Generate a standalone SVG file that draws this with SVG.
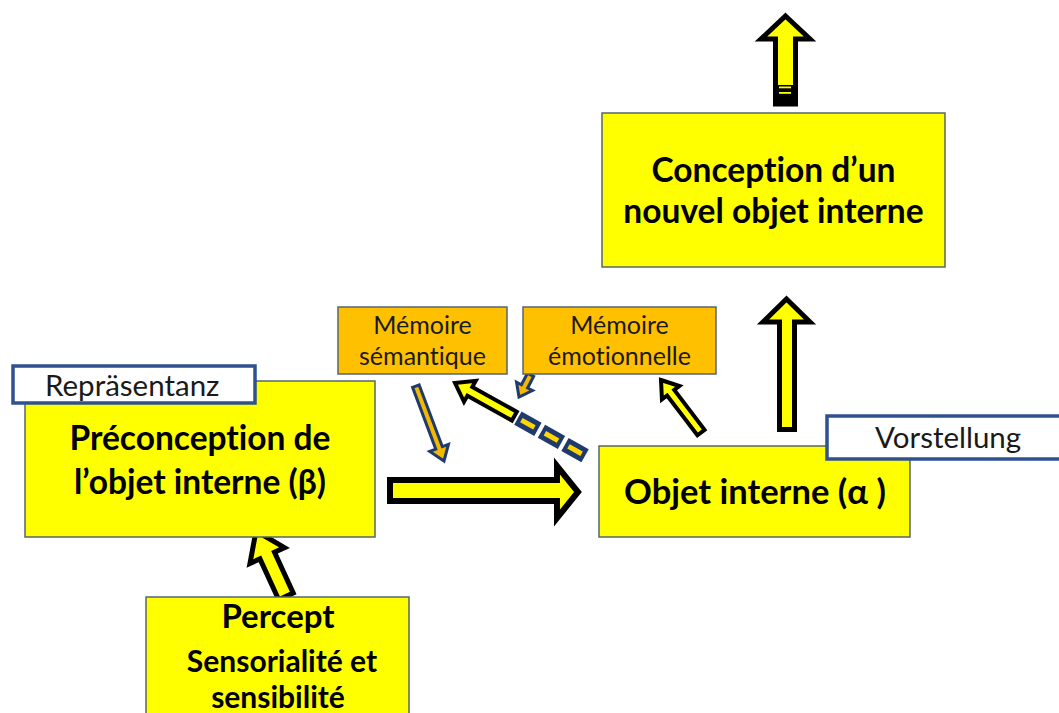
<svg xmlns="http://www.w3.org/2000/svg" width="1059" height="713" viewBox="0 0 1059 713">
<style>
.box{fill:#FFFF00;stroke:#55666A;stroke-width:1.5}
.mem{fill:#FFC000;stroke:#55666A;stroke-width:1.5}
.lbl{fill:#FFFFFF;stroke:#2F528F;stroke-width:3.5}
.bt{font-family:Lato,"Liberation Sans",sans-serif;font-weight:bold;fill:#000;text-anchor:middle;font-variant-ligatures:none}
.nt{font-family:Lato,"Liberation Sans",sans-serif;fill:#1a1a1a;font-variant-ligatures:none}
.ba{fill:#FFFF00;stroke:#000;stroke-linejoin:miter;stroke-miterlimit:10}
.na{fill:#F5B800;stroke:#1F3A6E;stroke-width:3;stroke-linejoin:miter}
</style>
<rect width="1059" height="713" fill="#FFFFFF"/>

<g id="connectors">
  <g id="arrow-top">
    <polygon class="ba" stroke-width="5" points="785.5,16 810,39 795.5,39 795.5,104 775.5,104 775.5,39 761,39"/>
    <rect x="778" y="85" width="15" height="19" fill="#000"/>
    <rect x="779" y="86.5" width="12" height="1.8" fill="#FFFF00"/>
    <rect x="779" y="92" width="12" height="1.8" fill="#FFFF00"/>
  </g>
  <polygon class="ba" stroke-width="5" points="786.5,299 810,322 794.5,322 794.5,429.5 779.5,429.5 779.5,322 763,322"/>
  <polygon class="ba" stroke-width="6" points="390,480 557,480 557,466 578,492 557,518 557,501 390,501"/>
  <polygon class="ba" stroke-width="5" transform="translate(256,531) rotate(-24.6)" points="0,0 19,27 8,27 8,72 -8,72 -8,27 -19,27"/>
  <polygon class="ba" stroke-width="4" transform="translate(661,380) rotate(-37.3)" points="0,0 11,16 4.5,16 4.5,66 -4.5,66 -4.5,16 -11,16"/>
  <g transform="translate(455,383) rotate(-60.8)">
    <polygon class="ba" stroke-width="4" points="0,0 12,17 5,17 5,68 -5,68 -5,17 -12,17"/>
    <rect x="-7.5" y="72" width="15" height="23" fill="#1F3A6E"/>
    <rect x="-2.5" y="76" width="5" height="15" fill="#FFD700"/>
    <rect x="-7.5" y="99" width="15" height="23" fill="#1F3A6E"/>
    <rect x="-2.5" y="103" width="5" height="15" fill="#FFD700"/>
    <rect x="-7.5" y="126" width="15" height="23" fill="#1F3A6E"/>
    <rect x="-2.5" y="130" width="5" height="15" fill="#FFD700"/>
  </g>
  <polygon class="na" transform="translate(444,461) rotate(159.4)" points="0,0 10,14 3.5,14 3.5,80 -3.5,80 -3.5,14 -10,14"/>
  <polygon class="na" transform="translate(519,397) rotate(-152.6)" points="0,0 9,12 3.5,12 3.5,25 -3.5,25 -3.5,12 -9,12"/>
</g>

<g id="node-conception">
  <rect class="box" x="602" y="113" width="343" height="154"/>
  <text class="bt" x="773.5" y="182" font-size="33.5">Conception d’un</text>
  <text class="bt" x="773.5" y="223" font-size="33.5">nouvel objet interne</text>
</g>

<g id="node-memoire-semantique">
  <rect class="mem" x="338" y="307" width="169" height="67"/>
  <text class="nt" x="422.5" y="334" font-size="25" text-anchor="middle">Mémoire</text>
  <text class="nt" x="422.5" y="365" font-size="25" text-anchor="middle">sémantique</text>
</g>

<g id="node-memoire-emotionnelle">
  <rect class="mem" x="523" y="307" width="193" height="67"/>
  <text class="nt" x="619.5" y="334" font-size="25" text-anchor="middle">Mémoire</text>
  <text class="nt" x="619.5" y="365" font-size="25" text-anchor="middle">émotionnelle</text>
</g>

<g id="node-preconception">
  <rect class="box" x="25" y="381" width="350" height="156"/>
  <text class="bt" x="200" y="450" font-size="33.5">Préconception de</text>
  <text class="bt" x="200" y="494" font-size="33.5">l’objet interne (β)</text>
</g>

<g id="label-representanz">
  <rect class="lbl" x="13" y="366" width="242" height="37"/>
  <text class="nt" x="45" y="396" font-size="29.5">Repräsentanz</text>
</g>

<g id="node-objet">
  <rect class="box" x="599" y="446" width="311" height="91"/>
  <text class="bt" x="755" y="504" font-size="34.5">Objet interne (α )</text>
</g>

<g id="label-vorstellung">
  <rect class="lbl" x="827" y="416" width="240" height="43"/>
  <text class="nt" x="875" y="448" font-size="29.5">Vorstellung</text>
</g>

<g id="node-percept">
  <rect class="box" x="146" y="597" width="263" height="130"/>
  <text class="bt" x="278" y="628" font-size="33">Percept</text>
  <text class="bt" x="282" y="672" font-size="30">Sensorialité et</text>
  <text class="bt" x="278" y="708" font-size="30">sensibilité</text>
</g>
</svg>
